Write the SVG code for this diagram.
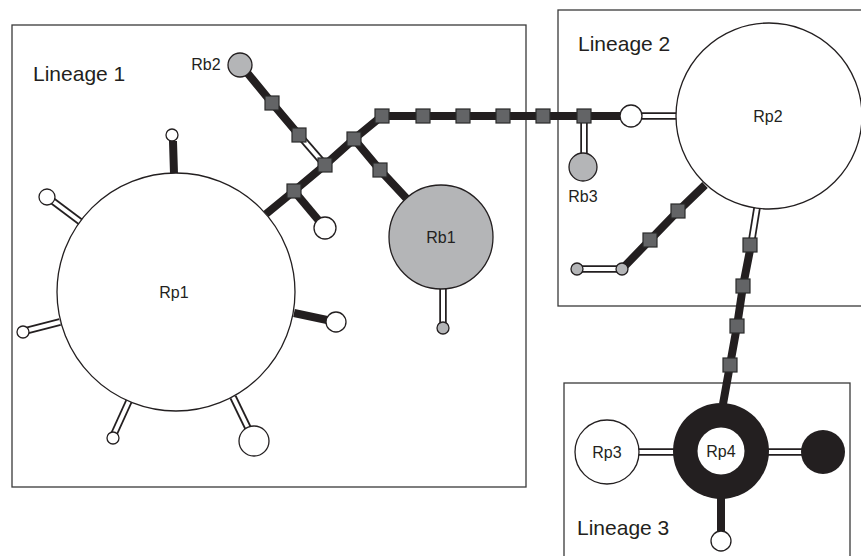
<svg xmlns="http://www.w3.org/2000/svg" width="861" height="556" viewBox="0 0 861 556">
<style>
.box{fill:none;stroke:#3a3a3a;stroke-width:1.3}
.thick{stroke:#231f20;stroke-width:8;fill:none}
.dbo{stroke:#231f20;stroke-width:7.5;fill:none}
.dbi{stroke:#fff;stroke-width:4;fill:none}
.sq{fill:#636466;stroke:#2a2a2a;stroke-width:1.2}
.w{fill:#fff;stroke:#231f20;stroke-width:1.3}
.g{fill:#b4b5b7;stroke:#231f20;stroke-width:1.3}
.b{fill:#231f20}
.lin{font-family:"Liberation Sans",Arial,sans-serif;font-size:21px;fill:#231f20}
.lbl{font-family:"Liberation Sans",Arial,sans-serif;font-size:16px;fill:#231f20;text-anchor:middle}
</style>
<rect width="861" height="556" fill="#fff"/>
<g id="lineage1"><rect class="box" x="12" y="25" width="514" height="462"/><text class="lin" x="33" y="81">Lineage 1</text></g>
<g id="lineage2"><rect class="box" x="558" y="10" width="310" height="296"/><text class="lin" x="578" y="51">Lineage 2</text></g>
<g id="lineage3"><rect class="box" x="564" y="383" width="286" height="190"/><text class="lin" x="577" y="535">Lineage 3</text></g>
<g id="connectors">
<polyline class="thick" points="266,214 294,191 325,165 354,139 382,116 631,116"/>
<line class="thick" x1="294" y1="191" x2="325" y2="228"/>
<polyline class="thick" points="354,139 380,170 407,199"/>
<polyline class="thick" points="240,64 272,103 299,135"/>
<line class="thick" x1="173" y1="141" x2="174" y2="174"/>
<line class="thick" x1="294" y1="313" x2="327" y2="320"/>
<polyline class="thick" points="705,185 678,211 650,240 622,269"/>
<polyline class="thick" points="751,245 743,286 737,326 730,365 723,404"/>
<line class="thick" x1="721" y1="497" x2="721" y2="532"/>
<g>
<line class="dbo" x1="299" y1="135" x2="325" y2="165"/>
<line class="dbo" x1="584" y1="116" x2="584" y2="155"/>
<line class="dbo" x1="640" y1="116" x2="677" y2="116"/>
<line class="dbo" x1="622" y1="269" x2="577" y2="269"/>
<line class="dbo" x1="757" y1="208" x2="751" y2="245"/>
<line class="dbo" x1="638" y1="452" x2="675" y2="452"/>
<line class="dbo" x1="767" y1="452" x2="803" y2="452"/>
<line class="dbo" x1="82" y1="223" x2="50" y2="199"/>
<line class="dbo" x1="60" y1="322" x2="25" y2="331"/>
<line class="dbo" x1="129" y1="401" x2="114" y2="434"/>
<line class="dbo" x1="233" y1="397" x2="248" y2="428"/>
<line class="dbo" x1="443" y1="287" x2="443" y2="324"/>
<line class="dbi" x1="299" y1="135" x2="325" y2="165"/>
<line class="dbi" x1="584" y1="116" x2="584" y2="155"/>
<line class="dbi" x1="640" y1="116" x2="677" y2="116"/>
<line class="dbi" x1="622" y1="269" x2="577" y2="269"/>
<line class="dbi" x1="757" y1="208" x2="751" y2="245"/>
<line class="dbi" x1="638" y1="452" x2="675" y2="452"/>
<line class="dbi" x1="767" y1="452" x2="803" y2="452"/>
<line class="dbi" x1="82" y1="223" x2="50" y2="199"/>
<line class="dbi" x1="60" y1="322" x2="25" y2="331"/>
<line class="dbi" x1="129" y1="401" x2="114" y2="434"/>
<line class="dbi" x1="233" y1="397" x2="248" y2="428"/>
<line class="dbi" x1="443" y1="287" x2="443" y2="324"/>
</g>
</g>
<g id="squares">
<rect class="sq" x="375" y="109" width="14" height="14"/>
<rect class="sq" x="416" y="109" width="14" height="14"/>
<rect class="sq" x="456" y="109" width="14" height="14"/>
<rect class="sq" x="496" y="109" width="14" height="14"/>
<rect class="sq" x="536" y="109" width="14" height="14"/>
<rect class="sq" x="577" y="109" width="14" height="14"/>
<rect class="sq" x="347" y="132" width="14" height="14"/>
<rect class="sq" x="318" y="158" width="14" height="14"/>
<rect class="sq" x="287" y="184" width="14" height="14"/>
<rect class="sq" x="373" y="163" width="14" height="14"/>
<rect class="sq" x="265" y="96" width="14" height="14"/>
<rect class="sq" x="292" y="128" width="14" height="14"/>
<rect class="sq" x="671" y="204" width="14" height="14"/>
<rect class="sq" x="643" y="233" width="14" height="14"/>
<rect class="sq" x="743" y="238" width="14" height="14"/>
<rect class="sq" x="736" y="279" width="14" height="14"/>
<rect class="sq" x="730" y="319" width="14" height="14"/>
<rect class="sq" x="723" y="358" width="14" height="14"/>
</g>
<g id="Rp1"><circle class="w" cx="176" cy="292" r="119"/><text class="lbl" x="174" y="298">Rp1</text></g>
<g id="Rp2"><circle class="w" cx="769" cy="116" r="93"/><text class="lbl" x="768" y="122">Rp2</text></g>
<g id="Rb1"><circle class="g" cx="441" cy="237" r="52"/><text class="lbl" x="441" y="243">Rb1</text></g>
<g id="Rb2"><circle class="g" cx="240" cy="65" r="12"/><text class="lbl" x="206" y="70">Rb2</text></g>
<g id="Rb3"><circle class="g" cx="583" cy="167" r="14"/><text class="lbl" x="583" y="202">Rb3</text></g>
<g id="Rp3"><circle class="w" cx="607" cy="452" r="32"/><text class="lbl" x="607" y="458">Rp3</text></g>
<g id="Rp4"><circle class="b" cx="721" cy="451" r="48"/><circle fill="#fff" cx="721" cy="451" r="23.5"/><text class="lbl" x="721" y="457">Rp4</text></g>
<g id="n-right-black"><circle class="b" cx="823" cy="452" r="22"/></g>
<g id="n-small">
<circle class="w" cx="172" cy="135" r="6"/>
<circle class="w" cx="47" cy="197" r="8"/>
<circle class="w" cx="23" cy="332" r="6"/>
<circle class="w" cx="113" cy="438" r="6"/>
<circle class="w" cx="254" cy="441" r="15"/>
<circle class="w" cx="336" cy="322" r="10"/>
<circle class="w" cx="325" cy="228" r="11"/>
<circle class="g" cx="443" cy="328" r="6"/>
<circle class="w" cx="631" cy="116" r="11"/>
<circle class="g" cx="622" cy="269" r="6"/>
<circle class="g" cx="577" cy="269" r="6"/>
<circle class="w" cx="721" cy="541" r="10"/>
</g>
</svg>
